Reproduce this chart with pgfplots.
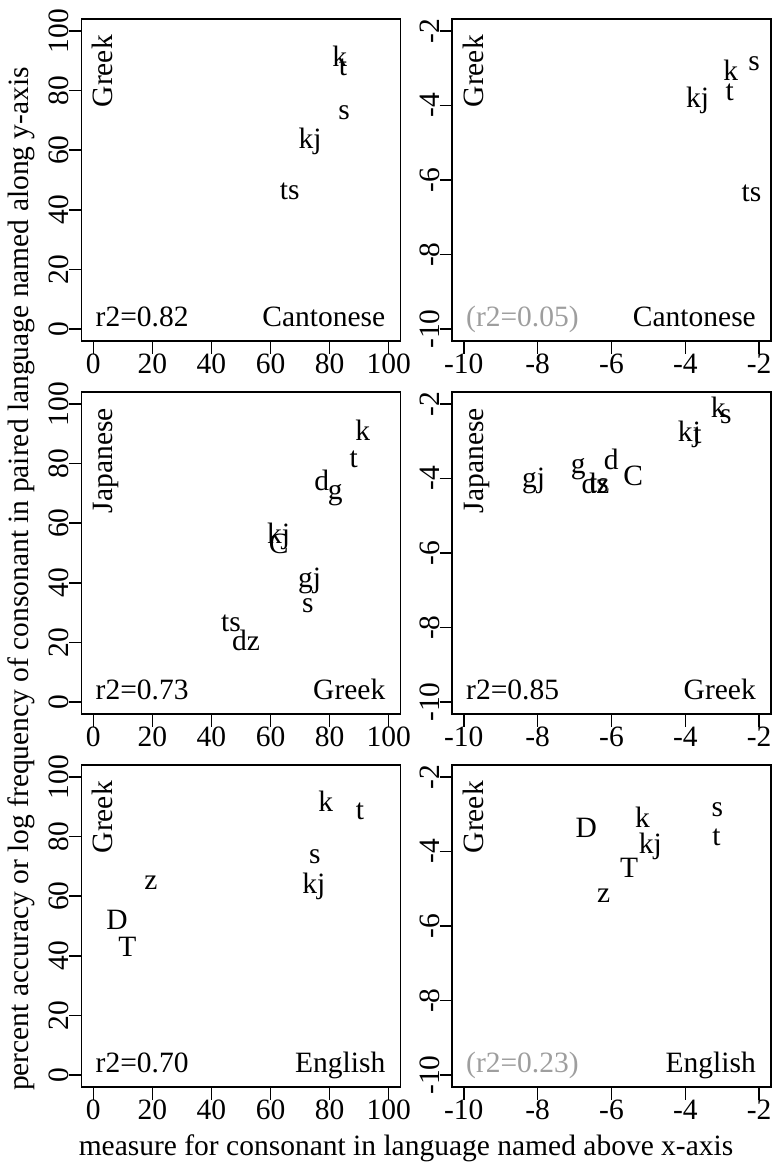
\documentclass[border=0pt]{standalone}
\usepackage{pgfplots}
\pgfplotsset{compat=1.18}
\usepackage{fontspec}
\setmainfont{Liberation Serif}
\definecolor{rgray}{gray}{0.62}

% annotations inside a panel: #1 rotated language, #2 r2 text, #3 bottom-right language
\newcommand{\tags}[3]{%
  \node[rotate=90, anchor=base east, inner sep=0pt] at ([xshift=31pt,yshift=-16pt]rel axis cs:0,1) {#1};
  \node[anchor=base west, inner sep=0pt] at ([xshift=14pt,yshift=15pt]rel axis cs:0,0) {#2};
  \node[anchor=base east, inner sep=0pt] at ([xshift=-15pt,yshift=15pt]rel axis cs:1,0) {#3};
}

\begin{document}
\begin{tikzpicture}[font=\fontsize{29.5}{34}\selectfont]
\useasboundingbox (0,0) rectangle (773pt,-1162pt);
\pgfplotsset{
  panel/.style={
    scale only axis, width=319pt, height=322pt,
    axis line style={line width=1.8pt},
    tick align=outside, major tick length=12.5pt,
    every tick/.style={line width=1.6pt, black},
    tick pos=left,
    /pgf/number format/assume math mode=true,
    yticklabel style={rotate=90, anchor=south, inner sep=0pt},
    xticklabel style={anchor=north, inner sep=0pt},
    clip=false,
  },
  lbl/.style={
    only marks, mark=none,
    nodes near coords, point meta=explicit symbolic,
    nodes near coords style={anchor=base, yshift=-9.5pt, inner sep=0pt, black},
  },
  pct/.style={panel, xmin=-4, xmax=104, ymin=-4, ymax=104,
    xtick={0,20,40,60,80,100}, ytick={0,20,40,60,80,100}},
  lgf/.style={panel, xmin=-10.32, xmax=-1.68, ymin=-10.32, ymax=-1.68,
    xtick={-10,-8,-6,-4,-2}, ytick={-10,-8,-6,-4,-2}},
}

% ---- row 1: Greek vs Cantonese
\begin{axis}[pct, at={(81.5pt,-19pt)}, anchor=north west]
\addplot[lbl] coordinates {
  (83.4,91.2) [k]
  (84.5,88.4) [t]
  (84.9,73.6) [s]
  (73.4,63.9) [kj]
  (66.5,46.8) [ts]
};
\tags{Greek}{r2=0.82}{Cantonese}
\end{axis}

\begin{axis}[lgf, at={(452pt,-19pt)}, anchor=north west]
\addplot[lbl] coordinates {
  (-2.14,-2.82) [s]
  (-2.77,-3.08) [k]
  (-2.80,-3.60) [t]
  (-3.67,-3.80) [kj]
  (-2.21,-6.33) [ts]
};
\tags{Greek}{\textcolor{rgray}{(r2=0.05)}}{Cantonese}
\end{axis}

% ---- row 2: Japanese vs Greek
\begin{axis}[pct, at={(81.5pt,-392pt)}, anchor=north west]
\addplot[lbl] coordinates {
  (91.2,90.9) [k]
  (88.2,81.7) [t]
  (77.3,74.2) [d]
  (81.9,71.3) [g]
  (62.7,56.4) [kj]
  (62.8,53.1) [C]
  (73.2,41.6) [gj]
  (72.6,33.1) [s]
  (46.6,27.0) [ts]
  (51.7,20.5) [dz]
};
\tags{Japanese}{r2=0.73}{Greek}
\end{axis}

\begin{axis}[lgf, at={(452pt,-392pt)}, anchor=north west]
\addplot[lbl] coordinates {
  (-3.11,-2.10) [k]
  (-2.90,-2.28) [s]
  (-3.89,-2.76) [kj]
  (-3.67,-2.82) [t]
  (-6.01,-3.51) [d]
  (-5.41,-3.94) [C]
  (-6.90,-3.62) [g]
  (-6.43,-4.14) [dz]
  (-6.34,-4.12) [ts]
  (-8.11,-3.98) [gj]
};
\tags{Japanese}{r2=0.85}{Greek}
\end{axis}

% ---- row 3: Greek vs English
\begin{axis}[pct, at={(81.5pt,-765pt)}, anchor=north west]
\addplot[lbl] coordinates {
  (78.7,91.6) [k]
  (90.3,88.8) [t]
  (75.0,74.0) [s]
  (74.7,64.0) [kj]
  (19.5,65.3) [z]
  (8.0,51.9) [D]
  (11.5,42.9) [T]
};
\tags{Greek}{r2=0.70}{English}
\end{axis}

\begin{axis}[lgf, at={(452pt,-765pt)}, anchor=north west]
\addplot[lbl] coordinates {
  (-3.13,-2.80) [s]
  (-3.16,-3.58) [t]
  (-6.68,-3.36) [D]
  (-5.16,-3.09) [k]
  (-4.95,-3.79) [kj]
  (-5.52,-4.44) [T]
  (-6.21,-5.12) [z]
};
\tags{Greek}{\textcolor{rgray}{(r2=0.23)}}{English}
\end{axis}

% outer axis titles
\node[rotate=90, anchor=base, inner sep=0pt] at (28pt,-579pt)
  {percent accuracy or log frequency of consonant in paired language named along y-axis};
\node[anchor=base, inner sep=0pt] at (406pt,-1155pt)
  {measure for consonant in language named above x-axis};
\end{tikzpicture}
\end{document}
